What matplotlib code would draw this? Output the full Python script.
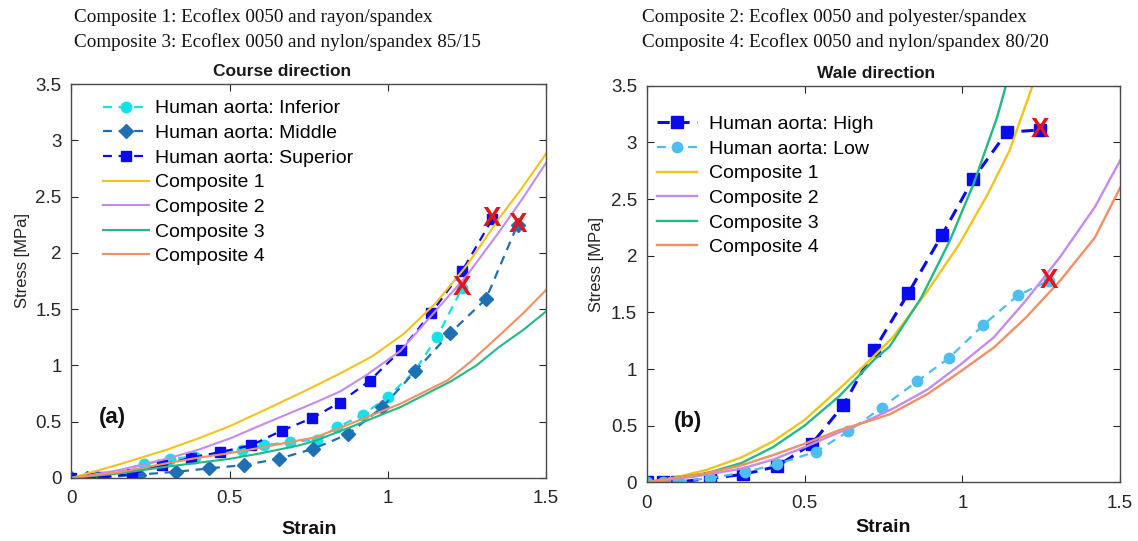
import matplotlib.pyplot as plt

plt.rcParams["font.family"] = ["Liberation Sans", "DejaVu Sans"]

# ---- Course direction: human aorta (strain, stress in MPa)
c_inf_x = [0, 0.05, 0.08, 0.23, 0.31, 0.39, 0.54, 0.61, 0.69, 0.775, 0.84, 0.92, 1.0, 1.085, 1.155, 1.235]
c_inf_y = [0, 0.0, 0.01, 0.12, 0.17, 0.19, 0.25, 0.29, 0.32, 0.34, 0.45, 0.56, 0.72, 0.95, 1.25, 1.69]
c_mid_x = [0, 0.05, 0.08, 0.215, 0.33, 0.435, 0.545, 0.655, 0.765, 0.875, 0.983, 1.087, 1.198, 1.31, 1.41]
c_mid_y = [0, 0.0, 0.0, 0.03, 0.055, 0.085, 0.115, 0.17, 0.26, 0.39, 0.63, 0.95, 1.29, 1.59, 2.25]
c_sup_x = [0, 0.06, 0.1, 0.19, 0.285, 0.378, 0.47, 0.568, 0.664, 0.759, 0.848, 0.943, 1.043, 1.138, 1.235, 1.33]
c_sup_y = [0, 0.0, 0.01, 0.035, 0.115, 0.18, 0.23, 0.29, 0.42, 0.53, 0.67, 0.865, 1.14, 1.47, 1.84, 2.30]

# ---- Course direction: composites
c1_x = [0, 0.05, 0.15, 0.3, 0.4, 0.5, 0.6, 0.75, 0.85, 0.95, 1.05, 1.15, 1.25, 1.35, 1.43, 1.5]
c1_y = [0, 0.04, 0.12, 0.25, 0.35, 0.46, 0.59, 0.79, 0.93, 1.08, 1.28, 1.55, 1.89, 2.30, 2.60, 2.88]
c2_x = [0, 0.05, 0.15, 0.3, 0.4, 0.5, 0.6, 0.77, 0.85, 0.93, 1.04, 1.14, 1.25, 1.35, 1.43, 1.5]
c2_y = [0, 0.02, 0.07, 0.17, 0.25, 0.35, 0.47, 0.67, 0.77, 0.91, 1.13, 1.45, 1.80, 2.18, 2.50, 2.80]
c3_x = [0, 0.15, 0.3, 0.5, 0.6, 0.72, 0.77, 0.88, 1.04, 1.2, 1.28, 1.35, 1.43, 1.5]
c3_y = [0, 0.04, 0.10, 0.17, 0.22, 0.29, 0.33, 0.45, 0.63, 0.86, 1.0, 1.16, 1.32, 1.48]
c4_x = [0, 0.15, 0.3, 0.4, 0.5, 0.6, 0.72, 0.77, 0.88, 1.04, 1.19, 1.26, 1.35, 1.43, 1.5]
c4_y = [0, 0.05, 0.13, 0.18, 0.22, 0.27, 0.335, 0.36, 0.48, 0.66, 0.87, 1.03, 1.26, 1.47, 1.67]

# ---- Wale direction: human aorta
w_high_x = [0, 0.05, 0.095, 0.2, 0.306, 0.412, 0.523, 0.623, 0.72, 0.829, 0.935, 1.035, 1.141, 1.247]
w_high_y = [0, 0.0, 0.0, 0.035, 0.07, 0.14, 0.34, 0.68, 1.165, 1.67, 2.18, 2.68, 3.09, 3.11]
w_low_x = [0, 0.05, 0.1, 0.2, 0.312, 0.412, 0.536, 0.639, 0.745, 0.856, 0.959, 1.067, 1.176, 1.275]
w_low_y = [0, 0.0, 0.01, 0.035, 0.09, 0.16, 0.27, 0.45, 0.66, 0.89, 1.10, 1.39, 1.65, 1.78]

# ---- Wale direction: composites
w1_x = [0, 0.085, 0.19, 0.3, 0.4, 0.5, 0.62, 0.7, 0.78, 0.89, 0.99, 1.08, 1.15, 1.225]
w1_y = [0, 0.04, 0.11, 0.22, 0.36, 0.55, 0.85, 1.06, 1.28, 1.69, 2.10, 2.54, 2.93, 3.52]
w2_x = [0, 0.15, 0.3, 0.4, 0.5, 0.6, 0.68, 0.78, 0.89, 0.99, 1.1, 1.2, 1.31, 1.42, 1.5]
w2_y = [0, 0.05, 0.12, 0.2, 0.31, 0.43, 0.52, 0.65, 0.82, 1.03, 1.28, 1.6, 1.99, 2.43, 2.84]
w3_x = [0, 0.19, 0.3, 0.4, 0.5, 0.61, 0.72, 0.77, 0.87, 0.96, 1.035, 1.11, 1.14]
w3_y = [0, 0.08, 0.17, 0.31, 0.50, 0.76, 1.08, 1.2, 1.63, 2.13, 2.63, 3.22, 3.52]
w4_x = [0, 0.1, 0.19, 0.3, 0.4, 0.5, 0.61, 0.68, 0.77, 0.89, 0.99, 1.1, 1.2, 1.31, 1.42, 1.5]
w4_y = [0, 0.04, 0.08, 0.15, 0.24, 0.34, 0.46, 0.52, 0.6, 0.78, 0.97, 1.19, 1.45, 1.78, 2.16, 2.60]

x_ticks = [0, 0.5, 1, 1.5]
x_tick_labels = ["0", "0.5", "1", "1.5"]
y_ticks = [0, 0.5, 1, 1.5, 2, 2.5, 3, 3.5]
y_tick_labels = ["0", "0.5", "1", "1.5", "2", "2.5", "3", "3.5"]

YELLOW = "#f2c31b"
PURPLE = "#c48cef"
GREEN = "#22b982"
ORANGE = "#f29063"
RED = "#e3141b"
AX_COLOR = "#262626"

dash = dict(linestyle="--", dashes=(4, 3), linewidth=1.6)


def style_axes(ax, title, title_x, tag, ylabel_xy, xlabel_pad):
    ax.set_xlim(0, 1.5)
    ax.set_ylim(0, 3.5)
    ax.set_xticks(x_ticks)
    ax.set_xticklabels(x_tick_labels)
    ax.set_yticks(y_ticks)
    ax.set_yticklabels(y_tick_labels)
    ax.tick_params(direction="in", top=True, right=True, length=5, width=0.8,
                   labelsize=13.5, colors=AX_COLOR)
    ax.tick_params(axis="x", pad=9)
    ax.tick_params(axis="y", pad=7)
    for s in ax.spines.values():
        s.set_color("#4a4a4a")
        s.set_linewidth(1.0)
    ax.text(title_x, 1.012, title, transform=ax.transAxes, ha="center", va="bottom",
            fontsize=12.5, fontweight="bold", color="#1a1a1a")
    ax.set_xlabel("Strain", fontsize=14, fontweight="bold", labelpad=xlabel_pad, color="#111111")
    ax.set_ylabel("Stress [MPa]", fontsize=12, color="#222222")
    ax.yaxis.set_label_coords(*ylabel_xy)
    ax.text(0.13, 0.54, tag, fontsize=16, fontweight="bold", ha="center", va="center",
            color="#111111")


def mark_failure(ax, xs, ys):
    ax.text(xs[-1], ys[-1], "X", color=RED, fontsize=20, fontweight="bold",
            ha="center", va="center", zorder=5)


fig = plt.figure(figsize=(11.38, 5.41), dpi=100)

# Course direction
ax1 = fig.add_axes([0.0628, 0.1165, 0.417, 0.728])
ax1.plot(c_inf_x, c_inf_y, color="#14e2e8", marker="o", markersize=7.5, label="Human aorta: Inferior", **dash)
ax1.plot(c_mid_x, c_mid_y, color="#1f6fb5", marker="D", markersize=7, label="Human aorta: Middle", **dash)
ax1.plot(c_sup_x, c_sup_y, color="#0a0af0", marker="s", markersize=7, label="Human aorta: Superior", **dash)
ax1.plot(c1_x, c1_y, color=YELLOW, lw=1.5, label="Composite 1")
ax1.plot(c2_x, c2_y, color=PURPLE, lw=1.5, label="Composite 2")
ax1.plot(c3_x, c3_y, color=GREEN, lw=1.5, label="Composite 3")
ax1.plot(c4_x, c4_y, color=ORANGE, lw=1.5, label="Composite 4")
for xs, ys in [(c_inf_x, c_inf_y), (c_mid_x, c_mid_y), (c_sup_x, c_sup_y)]:
    mark_failure(ax1, xs, ys)
style_axes(ax1, "Course direction", 0.444, "(a)", (-0.088, 0.553), 10)
ax1.legend(loc="upper left", bbox_to_anchor=(0.066, 0.96), frameon=False, fontsize=14,
           handlelength=2.4, handletextpad=0.3, labelspacing=0.36, borderpad=0,
           borderaxespad=0, numpoints=1)

# Wale direction
ax2 = fig.add_axes([0.5683, 0.1085, 0.416, 0.733])
ax2.plot(w_high_x, w_high_y, color="#0a0af0", marker="s", markersize=8, label="Human aorta: High",
         linestyle="--", dashes=(4, 2.5), linewidth=2.2)
ax2.plot(w_low_x, w_low_y, color="#4dbeee", marker="o", markersize=7.5, label="Human aorta: Low", **dash)
ax2.plot(w1_x, w1_y, color=YELLOW, lw=1.7, label="Composite 1")
ax2.plot(w2_x, w2_y, color=PURPLE, lw=1.7, label="Composite 2")
ax2.plot(w3_x, w3_y, color=GREEN, lw=1.7, label="Composite 3")
ax2.plot(w4_x, w4_y, color=ORANGE, lw=1.7, label="Composite 4")
for xs, ys in [(w_high_x, w_high_y), (w_low_x, w_low_y)]:
    mark_failure(ax2, xs, ys)
style_axes(ax2, "Wale direction", 0.484, "(b)", (-0.09, 0.55), 5)
ax2.legend(loc="upper left", bbox_to_anchor=(0.021, 0.925), frameon=False, fontsize=14,
           handlelength=2.06, handletextpad=0.62, labelspacing=0.36, borderpad=0,
           borderaxespad=0, numpoints=1)

# Composite key above each panel
header = dict(fontsize=13.8, family=["Liberation Serif", "DejaVu Serif"], color="#111111",
              ha="left", va="center")
fig.text(0.065, 0.9686, "Composite 1: Ecoflex 0050 and rayon/spandex", **header)
fig.text(0.065, 0.922, "Composite 3: Ecoflex 0050 and nylon/spandex 85/15", **header)
fig.text(0.564, 0.9686, "Composite 2: Ecoflex 0050 and polyester/spandex", **header)
fig.text(0.564, 0.922, "Composite 4: Ecoflex 0050 and nylon/spandex 80/20", **header)

fig.savefig("out.png", dpi=100)
